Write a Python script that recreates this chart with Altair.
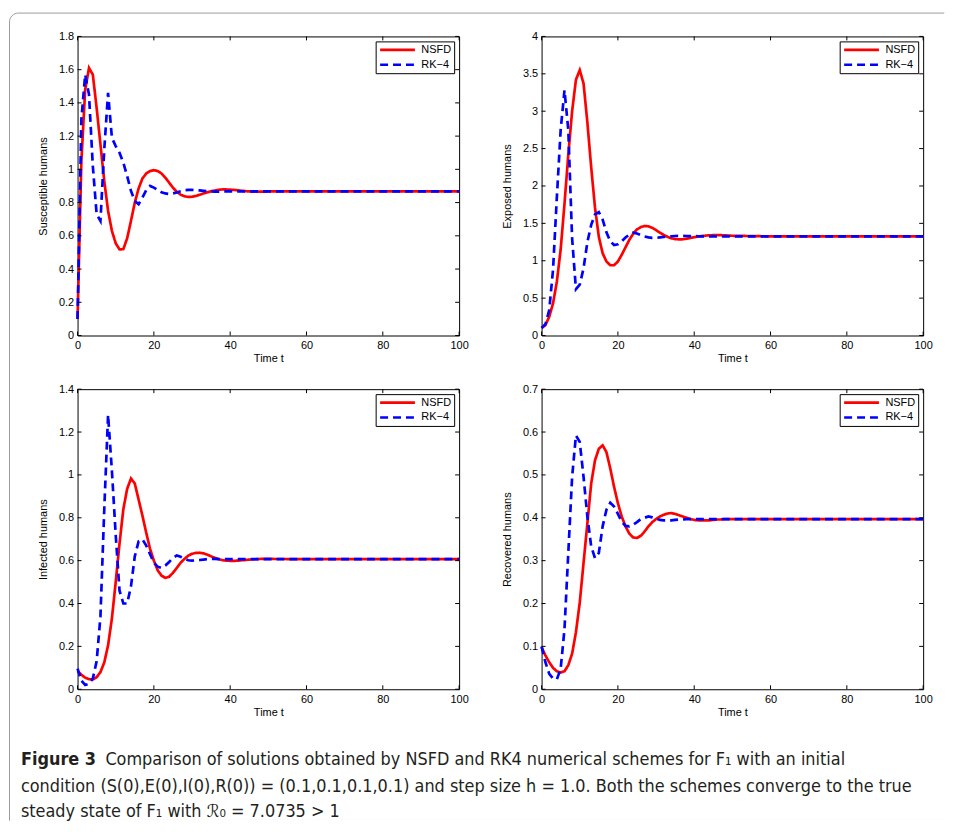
import altair as alt
import pandas as pd

# ---------------- data ----------------
T = [0, 1, 2, 3, 4, 5, 6, 7, 8, 9,
     10, 11, 12, 13, 14, 15, 16, 17, 18, 19,
     20, 21, 22, 23, 24, 25, 26, 27, 28, 29,
     30, 31, 32, 33, 34, 35, 36, 37, 38, 39,
     40, 41, 42, 43, 44, 45, 46, 47, 48, 49,
     50, 60, 70, 80, 90, 100]

S_NSFD = [0.10, 1.05, 1.48, 1.61, 1.57, 1.37, 1.15, 0.93, 0.75, 0.63,
          0.555, 0.518, 0.52, 0.585, 0.69, 0.80, 0.885, 0.945, 0.975, 0.99,
          0.995, 0.99, 0.975, 0.95, 0.92, 0.89, 0.865, 0.848, 0.838, 0.834,
          0.835, 0.84, 0.847, 0.855, 0.862, 0.868, 0.873, 0.877, 0.879, 0.879,
          0.878, 0.876, 0.874, 0.871, 0.869, 0.867, 0.866, 0.866, 0.866, 0.866,
          0.867, 0.868, 0.868, 0.868, 0.868, 0.868]
S_RK4 = [0.10, 1.30, 1.57, 1.45, 1.02, 0.73, 0.69, 1.12, 1.46, 1.19,
         1.14, 1.10, 1.04, 0.96, 0.87, 0.81, 0.79, 0.83, 0.875, 0.90,
         0.89, 0.876, 0.862, 0.855, 0.852, 0.855, 0.861, 0.868, 0.874, 0.876,
         0.876, 0.875, 0.873, 0.871, 0.869, 0.867, 0.866, 0.866, 0.867, 0.867,
         0.867, 0.867, 0.868, 0.868, 0.868, 0.868, 0.868, 0.868, 0.868, 0.868,
         0.868, 0.868, 0.868, 0.868, 0.868, 0.868]

E_NSFD = [0.10, 0.14, 0.25, 0.43, 0.72, 1.15, 1.76, 2.42, 3.00, 3.42,
          3.55, 3.37, 2.85, 2.25, 1.71, 1.32, 1.10, 0.99, 0.94, 0.94,
          0.99, 1.08, 1.18, 1.28, 1.36, 1.42, 1.45, 1.465, 1.46, 1.44,
          1.41, 1.375, 1.345, 1.32, 1.30, 1.29, 1.285, 1.287, 1.295, 1.305,
          1.315, 1.323, 1.33, 1.336, 1.34, 1.342, 1.343, 1.342, 1.34, 1.337,
          1.334, 1.326, 1.325, 1.325, 1.325, 1.325]
E_RK4 = [0.10, 0.15, 0.34, 0.88, 1.85, 2.75, 3.28, 2.75, 1.30, 0.62,
         0.68, 0.90, 1.25, 1.48, 1.62, 1.65, 1.55, 1.38, 1.26, 1.21,
         1.22, 1.26, 1.31, 1.35, 1.375, 1.365, 1.345, 1.325, 1.312, 1.305,
         1.306, 1.312, 1.318, 1.324, 1.328, 1.331, 1.332, 1.332, 1.331, 1.33,
         1.329, 1.328, 1.327, 1.327, 1.326, 1.326, 1.326, 1.326, 1.326, 1.326,
         1.326, 1.325, 1.325, 1.325, 1.325, 1.325]

I_NSFD = [0.085, 0.068, 0.054, 0.047, 0.046, 0.056, 0.080, 0.125, 0.205, 0.33,
          0.50, 0.68, 0.84, 0.935, 0.983, 0.96, 0.885, 0.81, 0.73, 0.655,
          0.60, 0.555, 0.53, 0.52, 0.525, 0.543, 0.566, 0.59, 0.608, 0.623,
          0.632, 0.636, 0.637, 0.634, 0.628, 0.62, 0.613, 0.607, 0.602, 0.60,
          0.599, 0.599, 0.60, 0.602, 0.603, 0.605, 0.606, 0.607, 0.608, 0.608,
          0.608, 0.607, 0.607, 0.607, 0.607, 0.607]
I_RK4 = [0.096, 0.04, 0.02, 0.026, 0.05, 0.13, 0.34, 0.84, 1.28, 1.02,
         0.72, 0.46, 0.40, 0.40, 0.48, 0.62, 0.69, 0.70, 0.67, 0.63,
         0.59, 0.572, 0.566, 0.577, 0.594, 0.612, 0.624, 0.618, 0.609, 0.602,
         0.600, 0.601, 0.603, 0.605, 0.607, 0.608, 0.608, 0.607, 0.607, 0.607,
         0.607, 0.607, 0.607, 0.607, 0.607, 0.607, 0.607, 0.607, 0.607, 0.607,
         0.607, 0.607, 0.607, 0.607, 0.607, 0.607]

R_NSFD = [0.098, 0.079, 0.063, 0.050, 0.042, 0.039, 0.042, 0.056, 0.083, 0.133,
          0.202, 0.295, 0.387, 0.48, 0.534, 0.561, 0.569, 0.553, 0.515, 0.472,
          0.434, 0.403, 0.38, 0.363, 0.354, 0.353, 0.358, 0.368, 0.38, 0.39,
          0.397, 0.403, 0.407, 0.41, 0.411, 0.409, 0.406, 0.403, 0.40, 0.397,
          0.395, 0.394, 0.394, 0.394, 0.394, 0.395, 0.396, 0.396, 0.397, 0.397,
          0.397, 0.397, 0.397, 0.397, 0.397, 0.397]
R_RK4 = [0.10, 0.063, 0.036, 0.025, 0.023, 0.048, 0.14, 0.318, 0.495, 0.592,
         0.577, 0.495, 0.403, 0.333, 0.306, 0.318, 0.38, 0.419, 0.435, 0.426,
         0.409, 0.391, 0.381, 0.38, 0.384, 0.39, 0.397, 0.40, 0.403, 0.401,
         0.398, 0.395, 0.394, 0.394, 0.394, 0.395, 0.396, 0.396, 0.397, 0.397,
         0.397, 0.397, 0.397, 0.397, 0.397, 0.397, 0.397, 0.397, 0.397, 0.397,
         0.397, 0.397, 0.397, 0.397, 0.397, 0.397]

SCHEMES = ["NSFD", "RK\u22124"]
X_TICKS = [0, 20, 40, 60, 80, 100]
Y_TICKS_S = [0, 0.2, 0.4, 0.6, 0.8, 1, 1.2, 1.4, 1.6, 1.8]
Y_TICKS_E = [0, 0.5, 1, 1.5, 2, 2.5, 3, 3.5, 4]
Y_TICKS_I = [0, 0.2, 0.4, 0.6, 0.8, 1, 1.2, 1.4]
Y_TICKS_R = [0, 0.1, 0.2, 0.3, 0.4, 0.5, 0.6, 0.7]

CAPTION_BOLD = "Figure 3"
CAPTION_LINES = [
    "Comparison of solutions obtained by NSFD and RK4 numerical schemes for F\u2081 with an initial",
    "condition (S(0),E(0),I(0),R(0)) = (0.1,0.1,0.1,0.1) and step size h = 1.0. Both the schemes converge to the true",
    "steady state of F\u2081 with \u211b\u2080 = 7.0735 > 1",
]

# ---------------- styling ----------------
W = 384
H_TOP = 301
H_BOT = 302
TK = 4
FONT = "Liberation Sans, Arial, Helvetica, sans-serif"
CAP_FONT = "Liberation Sans Narrow, DejaVu Sans Condensed, Arial Narrow, sans-serif"
COLORS = ["#ff0000", "#0000ff"]
DASHES = [[1, 0], [8, 5]]


def panel(ytitle, nsfd, rk4, yticks, h):
    df = pd.DataFrame({
        "t": T + T,
        "value": nsfd + rk4,
        "scheme": [SCHEMES[0]] * len(T) + [SCHEMES[1]] * len(T),
    })
    xs = alt.Scale(domain=[X_TICKS[0], X_TICKS[-1]], nice=False, zero=False)
    ys = alt.Scale(domain=[yticks[0], yticks[-1]], nice=False, zero=False)
    xax = alt.Axis(values=X_TICKS, format="d", labelFlush=False)
    yax = alt.Axis(values=yticks, format="~g")
    xenc = alt.X("t:Q", scale=xs, title="Time t", axis=xax)
    yenc = alt.Y("value:Q", scale=ys, title=ytitle, axis=yax)
    lines = alt.Chart(df).mark_line(strokeWidth=2.7).encode(
        x=xenc,
        y=yenc,
        color=alt.Color("scheme:N", title=None,
                        scale=alt.Scale(domain=SCHEMES, range=COLORS)),
        strokeDash=alt.StrokeDash("scheme:N", title=None,
                                  scale=alt.Scale(domain=SCHEMES, range=DASHES)),
    )
    xt = pd.DataFrame({"t": X_TICKS})
    yt = pd.DataFrame({"value": yticks})
    rule = dict(color="black", strokeWidth=1)
    bx = alt.Chart(xt).mark_rule(**rule).encode(
        x=xenc, y=alt.value(h), y2=alt.value(h - TK))
    tx = alt.Chart(xt).mark_rule(**rule).encode(
        x=xenc, y=alt.value(0), y2=alt.value(TK))
    ly = alt.Chart(yt).mark_rule(**rule).encode(
        y=yenc, x=alt.value(0), x2=alt.value(TK))
    ry = alt.Chart(yt).mark_rule(**rule).encode(
        y=yenc, x=alt.value(W), x2=alt.value(W - TK))
    return alt.layer(lines, bx, tx, ly, ry).properties(
        width=W, height=h, view=alt.ViewBackground(stroke="black", strokeWidth=1)
    )


p_s = panel("Susceptible humans", S_NSFD, S_RK4, Y_TICKS_S, H_TOP)
p_e = panel("Exposed humans", E_NSFD, E_RK4, Y_TICKS_E, H_TOP)
p_i = panel("Infected humans", I_NSFD, I_RK4, Y_TICKS_I, H_BOT)
p_r = panel("Recovered humans", R_NSFD, R_RK4, Y_TICKS_R, H_BOT)

# ---------------- caption cell (with the figure frame) ----------------
one = pd.DataFrame({"k": [0]})
FX1, FX2, FY1, FY2 = -68.5, 873, -734.5, 78
frame = alt.Chart(one).mark_rect(
    fill="white", fillOpacity=0, stroke="#9a9a9a", strokeWidth=1,
    cornerRadiusTopLeft=9,
).encode(x=alt.value(FX1), x2=alt.value(FX2), y=alt.value(FY1), y2=alt.value(FY2))
cover_r = alt.Chart(one).mark_rule(color="white", strokeWidth=2).encode(
    x=alt.value(FX2), y=alt.value(FY1 - 0.5), y2=alt.value(FY2 + 0.5))
cover_b = alt.Chart(one).mark_rule(color="white", strokeWidth=2).encode(
    y=alt.value(FY2), x=alt.value(FX1 + 0.5), x2=alt.value(FX2))

txt = dict(align="left", baseline="middle", font=CAP_FONT, fontSize=18, color="#231f20")
cap_b = alt.Chart(one).mark_text(fontWeight="bold", **txt).encode(
    x=alt.value(-57), y=alt.value(17), text=alt.value(CAPTION_BOLD))
cap_1 = alt.Chart(one).mark_text(**txt).encode(
    x=alt.value(28), y=alt.value(17), text=alt.value(CAPTION_LINES[0]))
cap_2 = alt.Chart(one).mark_text(**txt).encode(
    x=alt.value(-57), y=alt.value(44), text=alt.value(CAPTION_LINES[1]))
cap_3 = alt.Chart(one).mark_text(**txt).encode(
    x=alt.value(-57), y=alt.value(70), text=alt.value(CAPTION_LINES[2]))

caption = alt.layer(frame, cover_r, cover_b, cap_b, cap_1, cap_2, cap_3).properties(
    width=W, height=60, view=alt.ViewBackground(stroke="transparent"))

chart = alt.concat(
    p_s, p_e, p_i, p_r, caption,
    columns=2, spacing={"row": 54, "column": 83}, bounds="flush",
).resolve_scale(
    color="independent", strokeDash="independent"
).resolve_legend(
    color="independent", strokeDash="independent"
).properties(
    padding={"left": 0, "top": 0, "right": 0, "bottom": 0}, background="white"
).configure(
    padding={"left": 0, "top": 0, "right": 0, "bottom": 0}
).configure_axis(
    labelFont=FONT, labelFontSize=11, labelColor="black",
    titleFont=FONT, titleFontSize=11, titleFontWeight="normal", titleColor="black",
    domain=False, ticks=False, grid=False, labelPadding=4,
).configure_axisY(
    titlePadding=10
).configure_axisX(
    titlePadding=2
).configure_legend(
    orient="top-right", offset=5, padding=3, strokeColor="black", fillColor="white",
    cornerRadius=0, labelFont=FONT, labelFontSize=11, labelColor="black",
    symbolType="stroke", symbolSize=1225, symbolStrokeWidth=2.7, labelOffset=5,
    rowPadding=3, clipHeight=11,
)

chart.save("out.html", embed_options={"renderer": "svg", "actions": False})
